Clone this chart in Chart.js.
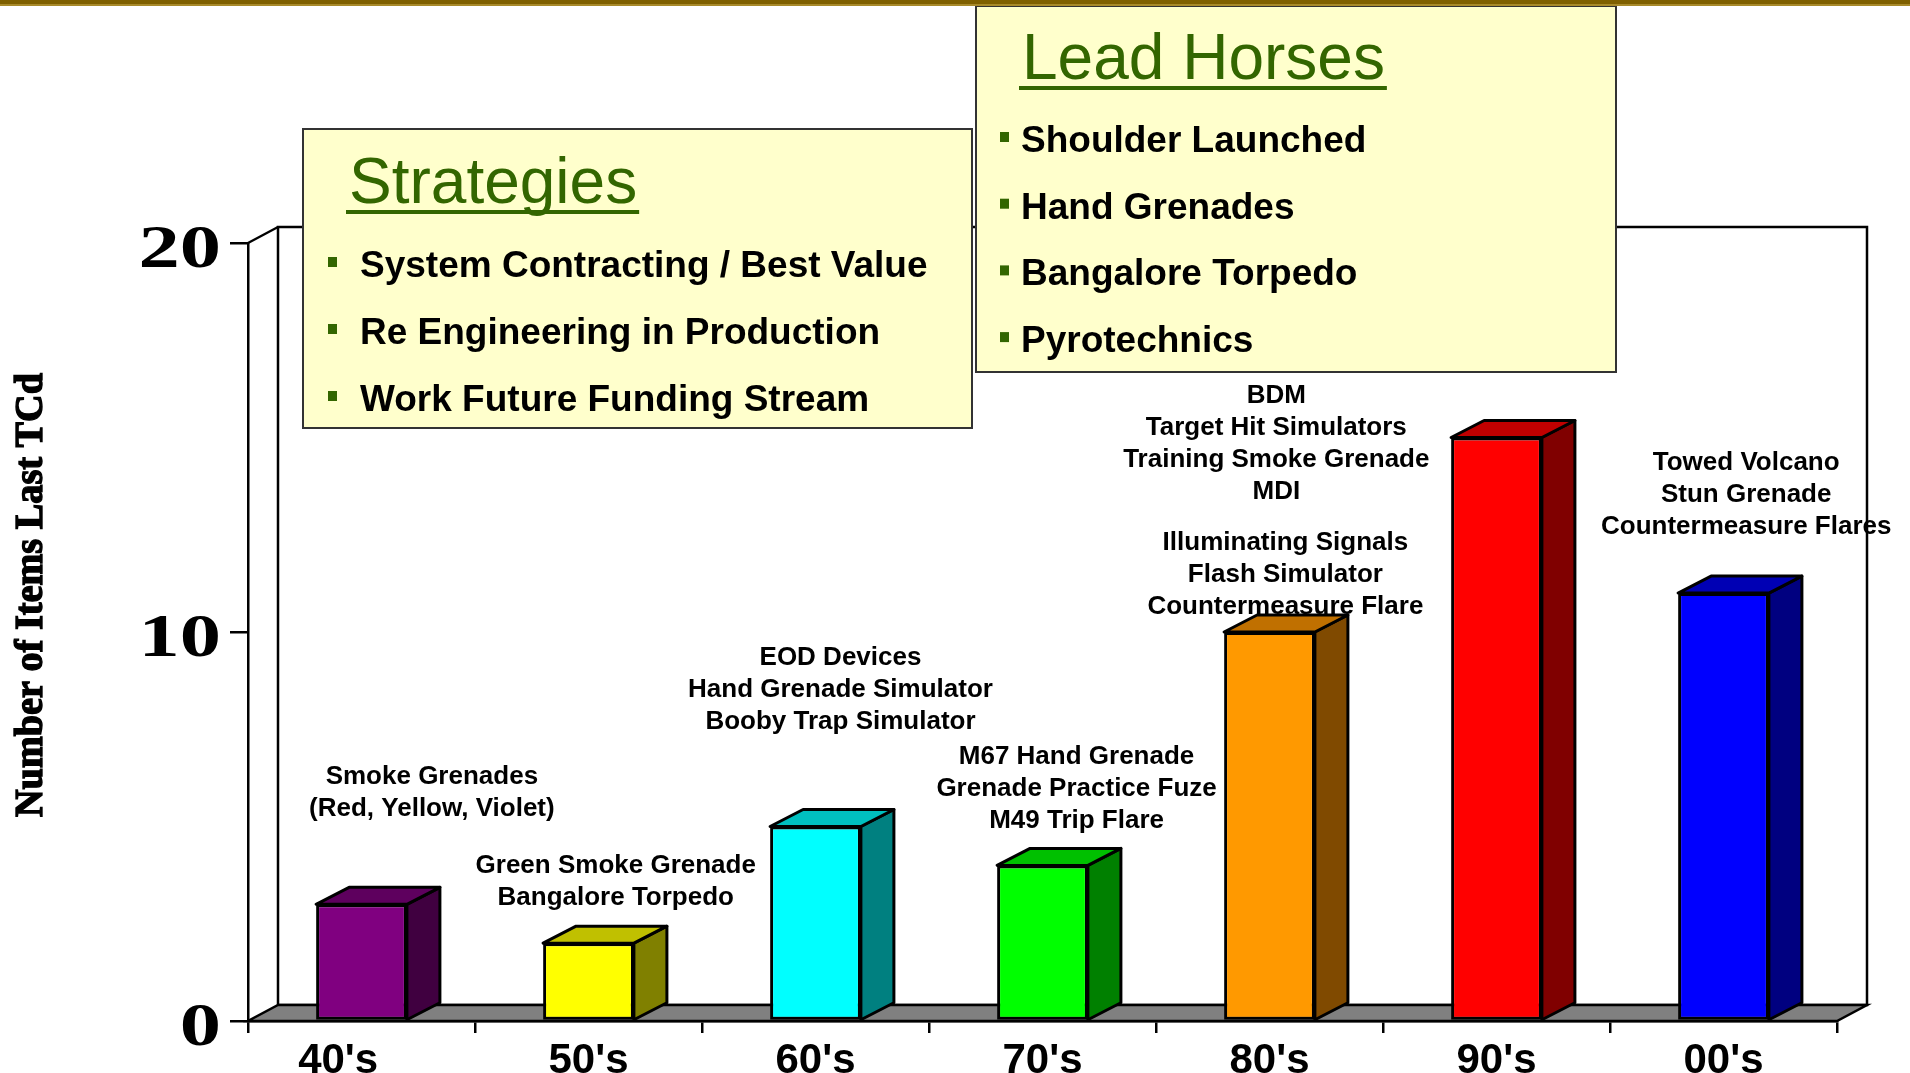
<!DOCTYPE html>
<html>
<head>
<meta charset="utf-8">
<script src="https://cdn.jsdelivr.net/npm/chart.js@4.4.1/dist/chart.umd.min.js"></script>
<style>
  body { margin: 0; background: #fff; }
  canvas { display: block; }
</style>
</head>
<body>
<canvas id="chart" width="1910" height="1073"></canvas>
<script>
// Data
const decades = ["40's", "50's", "60's", "70's", "80's", "90's", "00's"];
const itemCounts = [3, 2, 5, 4, 10, 15, 11];
const yTicks = [0, 10, 20];
const yTitle = 'Number of Items Last TCd';

const frontColors = ['#800080', '#ffff00', '#00ffff', '#00ff00', '#ff9900', '#ff0000', '#0000ff'];
const topColors = ['#5e005e', '#c0c000', '#00bfbf', '#00c000', '#c07000', '#c00000', '#0000b4'];
const sideColors = ['#400040', '#808000', '#008080', '#008000', '#804a00', '#800000', '#000080'];

const noteLines = [
  ['Smoke Grenades', '(Red, Yellow, Violet)'],
  ['Green Smoke Grenade', 'Bangalore Torpedo'],
  ['EOD Devices', 'Hand Grenade Simulator', 'Booby Trap Simulator'],
  ['M67 Hand Grenade', 'Grenade Practice Fuze', 'M49 Trip Flare'],
  ['Illuminating Signals', 'Flash Simulator', 'Countermeasure Flare'],
  ['BDM', 'Target Hit Simulators', 'Training Smoke Grenade', 'MDI'],
  ['Towed Volcano', 'Stun Grenade', 'Countermeasure Flares']
];

const strategiesTitle = 'Strategies';
const strategies = ['System Contracting / Best Value', 'Re Engineering in Production', 'Work Future Funding Stream'];
const leadTitle = 'Lead Horses';
const leadHorses = ['Shoulder Launched', 'Hand Grenades', 'Bangalore Torpedo', 'Pyrotechnics'];

// layout (category offset, value of first line)
const noteAnchor = [[0.31, 6.27], [0.12, 3.98], [0.11, 9.34], [0.15, 6.8], [0.07, 12.28], [-0.97, 16.07], [0.1, 14.35]];

const SANS = '"Liberation Sans", Arial, sans-serif';
const SERIF = '"Liberation Serif", "Times New Roman", serif';
const GREEN = '#336600';
const FLOOR = { dx: 30, dy: -16 };
const BAR = { dx: 33, dy: -17 };

function poly(ctx, pts, fill) {
  ctx.beginPath();
  ctx.moveTo(pts[0][0], pts[0][1]);
  pts.slice(1).forEach(p => ctx.lineTo(p[0], p[1]));
  ctx.closePath();
  if (fill) { ctx.fillStyle = fill; ctx.fill(); }
  ctx.stroke();
}

// back wall, side wall, floor
const framePlugin = {
  id: 'frame',
  beforeDraw(chart) {
    const { ctx, chartArea: a } = chart;
    ctx.save();
    ctx.fillStyle = '#fff';
    ctx.fillRect(0, 0, chart.width, chart.height);
    ctx.strokeStyle = '#000';
    ctx.lineWidth = 2.5;
    ctx.strokeRect(a.left + FLOOR.dx, a.top + FLOOR.dy, a.right - a.left, a.bottom - a.top);
    ctx.beginPath();
    ctx.moveTo(a.left, a.top);
    ctx.lineTo(a.left + FLOOR.dx, a.top + FLOOR.dy);
    ctx.stroke();
    poly(ctx, [[a.left, a.bottom], [a.right, a.bottom], [a.right + FLOOR.dx, a.bottom + FLOOR.dy], [a.left + FLOOR.dx, a.bottom + FLOOR.dy]], '#808080');
    ctx.restore();
  }
};

// sides and tops of the bars
const boxPlugin = {
  id: 'box3d',
  afterDatasetsDraw(chart) {
    const { ctx } = chart;
    const meta = chart.getDatasetMeta(0);
    ctx.save();
    ctx.strokeStyle = '#000';
    ctx.lineWidth = 3;
    ctx.lineJoin = 'round';
    meta.data.forEach((bar, i) => {
      const { x, y, base, width } = bar.getProps(['x', 'y', 'base', 'width'], true);
      const l = x - width / 2, r = x + width / 2;
      poly(ctx, [[r, y], [r + BAR.dx, y + BAR.dy], [r + BAR.dx, base + BAR.dy], [r, base]], sideColors[i]);
      poly(ctx, [[l, y], [r, y], [r + BAR.dx, y + BAR.dy], [l + BAR.dx, y + BAR.dy]], topColors[i]);
    });
    ctx.restore();
  }
};

function drawBox(ctx, box) {
  ctx.fillStyle = '#ffffcc';
  ctx.fillRect(box.x, box.y, box.w, box.h);
  ctx.strokeStyle = '#333';
  ctx.lineWidth = 2;
  ctx.strokeRect(box.x, box.y, box.w, box.h);
  ctx.textAlign = 'left';
  ctx.textBaseline = 'alphabetic';
  ctx.fillStyle = GREEN;
  ctx.font = '64px ' + SANS;
  ctx.fillText(box.title, box.titleX, box.titleBase);
  const tw = ctx.measureText(box.title).width;
  ctx.fillRect(box.titleX - 3, box.titleBase + 7, tw + 5, 4);
  ctx.font = 'bold 37px ' + SANS;
  box.items.forEach((t, k) => {
    const b = box.firstBase + k * box.step;
    ctx.fillStyle = GREEN;
    ctx.fillRect(box.squareX, b - 20, 9, 10);
    ctx.fillStyle = '#000';
    ctx.fillText(t, box.textX, b);
  });
}

const textPlugin = {
  id: 'texts',
  afterDraw(chart) {
    const { ctx, chartArea: a } = chart;
    const xs = chart.scales.x, ys = chart.scales.y;
    const catW = (a.right - a.left) / decades.length;
    ctx.save();

    // y tick labels, wide serif
    ctx.fillStyle = '#000';
    ctx.font = 'bold 62px ' + SERIF;
    ctx.textAlign = 'right';
    ctx.textBaseline = 'alphabetic';
    ys.ticks.forEach(t => {
      ctx.save();
      ctx.translate(221, ys.getPixelForValue(t.value) + 24);
      ctx.scale(1.33, 1);
      ctx.fillText(String(t.value), 0, 0);
      ctx.restore();
    });

    // y title, heavy and squeezed
    ctx.save();
    ctx.font = 'bold 41px ' + SERIF;
    const tw = ctx.measureText(yTitle).width;
    ctx.translate(42, 595);
    ctx.rotate(-Math.PI / 2);
    ctx.scale(444 / tw, 1);
    ctx.textAlign = 'center';
    ctx.strokeStyle = '#000';
    ctx.lineWidth = 1.4;
    ctx.fillText(yTitle, 0, 0);
    ctx.strokeText(yTitle, 0, 0);
    ctx.restore();

    // notes over the bars
    ctx.font = 'bold 26px ' + SANS;
    ctx.textAlign = 'center';
    ctx.textBaseline = 'middle';
    noteLines.forEach((lines, i) => {
      const cx = xs.getPixelForValue(i) + noteAnchor[i][0] * catW;
      const cy = ys.getPixelForValue(noteAnchor[i][1]);
      lines.forEach((t, k) => ctx.fillText(t, cx, cy + k * 32));
    });

    // call-out boxes
    drawBox(ctx, { x: 303, y: 129, w: 669, h: 299, title: strategiesTitle, titleX: 349, titleBase: 203,
      items: strategies, firstBase: 277, step: 67, squareX: 328, textX: 360 });
    drawBox(ctx, { x: 976, y: 6, w: 640, h: 366, title: leadTitle, titleX: 1022, titleBase: 79,
      items: leadHorses, firstBase: 152, step: 66.7, squareX: 1000, textX: 1021 });

    // gold rule at the top
    ctx.fillStyle = '#7f6000';
    ctx.fillRect(0, 0, chart.width, 4);
    ctx.fillStyle = '#a88a2a';
    ctx.fillRect(0, 4, chart.width, 2);
    ctx.restore();
  }
};

new Chart(document.getElementById('chart'), {
  type: 'bar',
  data: {
    labels: decades,
    datasets: [{
      data: itemCounts,
      backgroundColor: frontColors,
      borderColor: '#000',
      borderWidth: 3,
      borderSkipped: false,
      barPercentage: 0.4,
      categoryPercentage: 1.0
    }]
  },
  options: {
    responsive: false,
    animation: false,
    layout: { padding: { left: 0, right: 73, top: 243, bottom: 0 } },
    plugins: { legend: { display: false }, tooltip: { enabled: false } },
    scales: {
      x: {
        grid: { drawOnChartArea: false, color: '#000', lineWidth: 2.5, tickLength: 12, tickWidth: 2.5 },
        border: { display: true, color: '#000', width: 2.5 },
        ticks: {
          color: '#000',
          font: { family: SANS, size: 42, weight: 'bold' },
          padding: 3,
          maxRotation: 0,
          autoSkip: false,
          // the first label sits a little left of its slot on the slide
          callback: (v, i) => i === 0 ? decades[i] + '\u00a0\u00a0\u00a0\u00a0' : decades[i]
        },
        afterFit(scale) { scale.height = 52; }
      },
      y: {
        min: 0,
        max: 20,
        afterBuildTicks(scale) { scale.ticks = yTicks.map(v => ({ value: v })); },
        grid: { drawOnChartArea: false, color: '#000', lineWidth: 2.5, tickLength: 18, tickWidth: 2.5 },
        border: { display: true, color: '#000', width: 2.5 },
        ticks: { display: false },
        afterFit(scale) { scale.width = 248; }
      }
    }
  },
  plugins: [framePlugin, boxPlugin, textPlugin]
});
</script>
</body>
</html>
